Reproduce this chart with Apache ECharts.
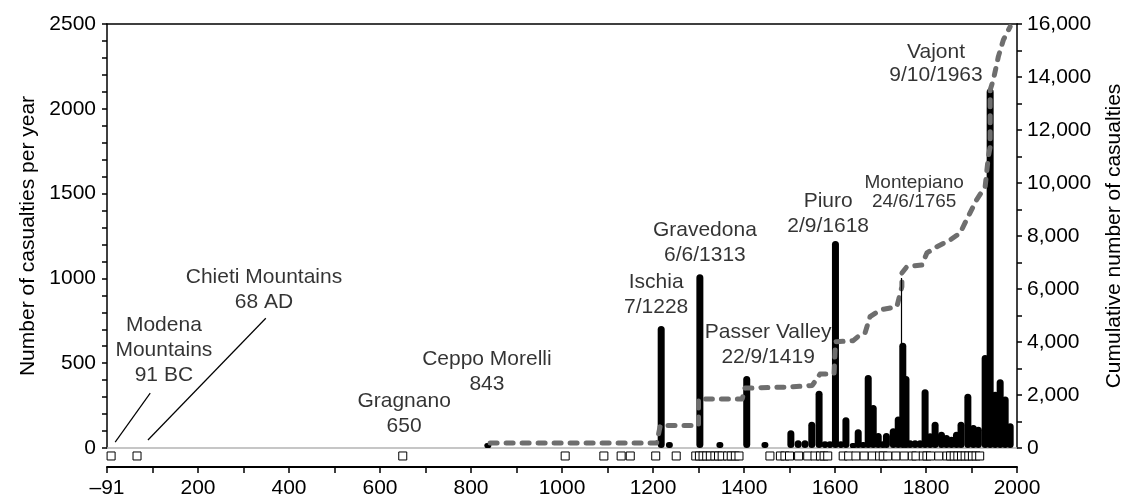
<!DOCTYPE html>
<html lang="en">
<head>
<meta charset="UTF-8">
<title>casualties</title>
<script src="https://cdn.jsdelivr.net/npm/echarts@6/dist/echarts.min.js"></script>
</head>
<body style="margin:0;background:#fff">
<div id="main" style="width:1129px;height:500px;"></div>
<script>
// casualties per year (position on the time axis, value)
var barYears = [837, 1218, 1236, 1303, 1347, 1406, 1446, 1503, 1519, 1534, 1549, 1565, 1578, 1589, 1601, 1613, 1624, 1640, 1651, 1662, 1673, 1684, 1695, 1705, 1713, 1728, 1739, 1749, 1756, 1765, 1776, 1787, 1798, 1809, 1820, 1834, 1845, 1856, 1867, 1877, 1892, 1904, 1915, 1930, 1941, 1952, 1963, 1974, 1985];
var barValues = [30, 720, 35, 1025, 35, 425, 35, 105, 45, 45, 155, 338, 40, 40, 1220, 40, 181, 30, 110, 35, 430, 253, 88, 40, 88, 117, 185, 621, 424, 45, 45, 45, 346, 87, 155, 96, 77, 67, 96, 155, 320, 136, 126, 548, 2120, 332, 405, 303, 146];

// cumulative number of casualties
var cumYears = [842, 1208, 1216, 1300, 1300, 1396, 1402, 1500, 1550, 1567, 1598, 1601, 1640, 1655, 1666, 1677, 1699, 1736, 1747, 1747, 1758, 1791, 1802, 1824, 1853, 1875, 1889, 1911, 1930, 1937, 1941, 1941, 1948, 1959, 1970, 1985];
var cumValues = [190, 190, 845, 845, 1850, 1850, 2260, 2300, 2360, 2790, 2800, 4010, 4050, 4265, 4340, 4956, 5208, 5333, 6087, 6604, 6841, 6906, 7359, 7597, 7850, 8114, 8605, 9360, 9861, 10994, 11371, 13513, 13890, 14768, 15397, 15900];

// events in the catalogue (squares under the axis)
var eventYears = [9, 66, 650, 1007, 1092, 1130, 1150, 1206, 1251, 1294, 1302, 1310, 1318, 1326, 1336, 1344, 1352, 1364, 1372, 1381, 1389, 1457, 1480, 1490, 1500, 1520, 1540, 1556, 1568, 1576, 1584, 1618, 1630, 1646, 1664, 1682, 1698, 1706, 1716, 1734, 1752, 1770, 1778, 1794, 1802, 1810, 1828, 1846, 1854, 1862, 1870, 1878, 1886, 1894, 1902, 1910, 1918];
var eventRowValue = -47;

// annotations
var noteTexts = ['Modena\nMountains\n91 BC', 'Chieti Mountains\n68 AD', 'Gragnano\n650', 'Ceppo Morelli\n843', 'Ischia\n7/1228', 'Gravedona\n6/6/1313', 'Passer Valley\n22/9/1419', 'Piuro\n2/9/1618', 'Montepiano\n24/6/1765', 'Vajont\n9/10/1963'];
var noteYears = [125, 345, 653, 835, 1207, 1314, 1453, 1585, 1774, 1822];
var noteValues = [578, 934, 203, 448, 902, 1212, 610, 1383, 1506, 2267];
var leaderFrom = [[18, 35], [90, 47], [1746, 1002]];
var leaderTo = [[95, 324], [349, 765], [1746, 344]];

var xFirstLabel = '–91';

var FONT = '"Liberation Sans", Arial, Helvetica, sans-serif';

function build() {
    var chart = echarts.init(document.getElementById('main'));

    var bars = [];
    for (var i = 0; i < barYears.length; i++) {
        bars.push([barYears[i], barValues[i]]);
    }
    var cum = [];
    for (var j = 0; j < cumYears.length; j++) {
        cum.push([cumYears[j], cumValues[j]]);
    }
    var events = eventYears.map(function (y) { return [y, eventRowValue]; });

    var notes = [];
    for (var k = 0; k < noteTexts.length; k++) {
        var item = { value: [noteYears[k], noteValues[k]], name: noteTexts[k] };
        if (noteTexts[k].indexOf('Montepiano') === 0) {
            item.label = { fontSize: 19, lineHeight: 19 };
        }
        if (noteTexts[k].indexOf('Vajont') === 0) {
            item.label = { lineHeight: 23 };
        }
        notes.push(item);
    }
    var leaders = leaderFrom.map(function (p, i) {
        return { coords: [p, leaderTo[i]] };
    });

    // bars as fixed width rounded rectangles, placed by the axes
    function renderBar(params, api) {
        var base = api.coord([api.value(0), 0]);
        var top = api.coord([api.value(0), api.value(1)]);
        var w = 7;
        return {
            type: 'rect',
            shape: { x: base[0] - w / 2, y: top[1], width: w, height: base[1] - top[1], r: w / 2 },
            style: { fill: '#000' }
        };
    }

    var black = '#000';
    var option = {
        animation: false,
        textStyle: { fontFamily: FONT },
        grid: { left: 107, right: 112, top: 24, bottom: 52, containLabel: false, outerBoundsMode: 'none' },
        xAxis: [
            {
                type: 'value', min: 0, max: 2000, interval: 200,
                position: 'bottom', offset: 19,
                axisLine: { onZero: false, lineStyle: { color: black, width: 2 } },
                axisTick: { show: true, length: 6, lineStyle: { color: black, width: 1.5 } },
                minorTick: { show: true, splitNumber: 2, length: 6, lineStyle: { color: black, width: 1.5 } },
                splitLine: { show: false },
                axisLabel: {
                    color: black, fontSize: 21, margin: 11, fontFamily: FONT,
                    formatter: function (v) { return v === 0 ? xFirstLabel : String(v); }
                }
            },
            {
                type: 'value', min: 0, max: 2000, position: 'top',
                axisLine: { onZero: false, lineStyle: { color: black, width: 1.5 } },
                axisTick: { show: false }, axisLabel: { show: false }, splitLine: { show: false }
            },
            {
                type: 'value', min: 0, max: 2000, position: 'bottom', offset: 0,
                axisLine: { onZero: false, lineStyle: { color: '#b4b4b4', width: 1.5 } },
                axisTick: { show: false }, axisLabel: { show: false }, splitLine: { show: false }
            }
        ],
        yAxis: [
            {
                type: 'value', min: 0, max: 2500, interval: 500, position: 'left',
                name: 'Number of casualties per year', nameLocation: 'middle', nameGap: 67, nameRotate: 90,
                nameTextStyle: { color: black, fontSize: 21, fontFamily: FONT },
                axisLine: { show: true, onZero: false, lineStyle: { color: black, width: 1.5 } },
                axisTick: { show: true, length: 5, lineStyle: { color: black, width: 1.5 } },
                minorTick: { show: true, splitNumber: 5, length: 5, lineStyle: { color: black, width: 1.5 } },
                splitLine: { show: false },
                axisLabel: {
                    color: black, fontSize: 21, margin: 11, fontFamily: FONT,
                    formatter: function (v) { return String(v); }
                }
            },
            {
                type: 'value', min: 0, max: 16000, interval: 2000, position: 'right',
                name: 'Cumulative number of casualties', nameLocation: 'middle', nameGap: 87, nameRotate: 90,
                nameTextStyle: { color: black, fontSize: 21, fontFamily: FONT },
                axisLine: { show: true, onZero: false, lineStyle: { color: black, width: 1.5 } },
                axisTick: { show: true, length: 5, lineStyle: { color: black, width: 1.5 } },
                minorTick: { show: true, splitNumber: 2, length: 5, lineStyle: { color: black, width: 1.5 } },
                splitLine: { show: false },
                axisLabel: { color: black, fontSize: 21, margin: 10, fontFamily: FONT }
            }
        ],
        series: [
            {
                name: 'per year', type: 'custom', data: bars, renderItem: renderBar,
                encode: { x: 0, y: 1 }, silent: true, z: 2
            },
            {
                name: 'cumulative', type: 'line', yAxisIndex: 1, data: cum,
                symbol: 'none', z: 4, silent: true,
                lineStyle: { color: '#6e6e6e', width: 5, type: [7, 9], cap: 'round', join: 'round' }
            },
            {
                name: 'events', type: 'scatter', data: events, clip: false,
                symbol: 'rect', symbolSize: 8, z: 5, silent: true,
                itemStyle: { color: '#fff', borderColor: black, borderWidth: 1, opacity: 1 }
            },
            {
                name: 'leaders', type: 'lines', coordinateSystem: 'cartesian2d', data: leaders,
                lineStyle: { color: black, width: 1.2, opacity: 1 }, silent: true, z: 6
            },
            {
                name: 'notes', type: 'scatter', data: notes, symbolSize: 0, clip: false, silent: true, z: 7,
                itemStyle: { color: 'transparent' },
                label: {
                    show: true, position: 'inside', color: black, fontSize: 21, lineHeight: 25,
                    fontFamily: FONT, align: 'center', verticalAlign: 'middle',
                    textBorderWidth: 0, textBorderColor: 'transparent',
                    formatter: function (p) { return p.name; }
                }
            }
        ]
    };
    chart.setOption(option);
}

build();
</script>
</body>
</html>
